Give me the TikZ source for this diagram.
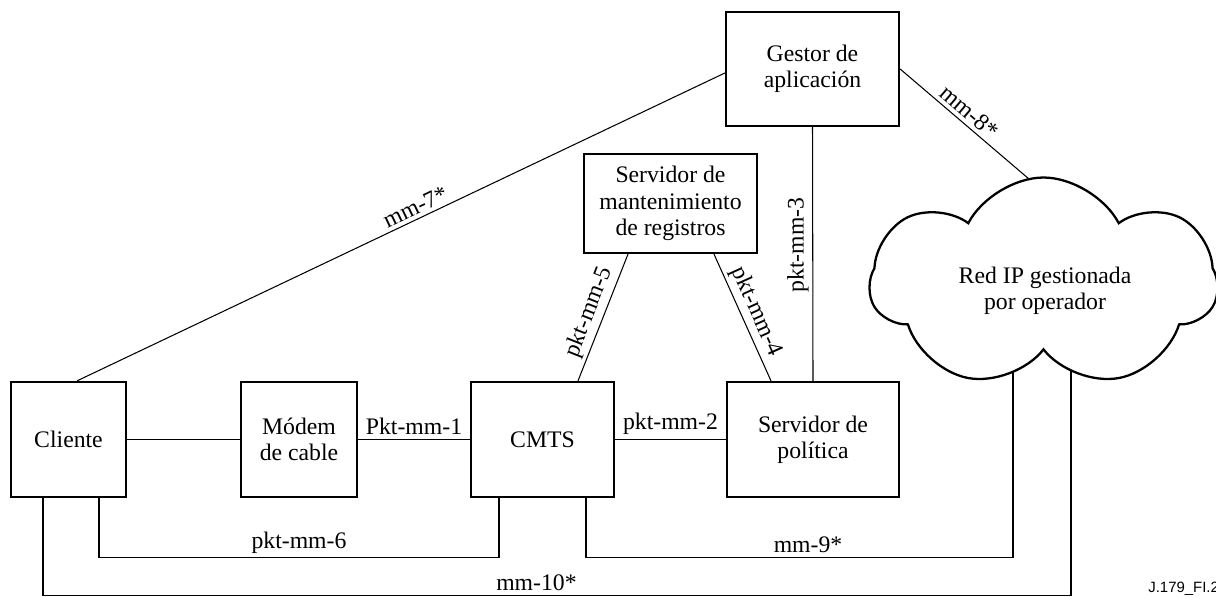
\documentclass[tikz,border=0pt]{standalone}
\usepackage{fontspec}
\setmainfont{Liberation Serif}
\newfontfamily\figfont{Liberation Sans}
\usetikzlibrary{shapes,calc}

\tikzset{
	box/.style={draw, line width=1.3pt, align=center, inner sep=0pt},
	link/.style={line width=0.6pt},
	mainlink/.style={line width=1.1pt},
	lbl/.style={inner sep=2pt}
}

\begin{document}
\begin{tikzpicture}[x=0.02cm, y=-0.02cm, font=\fontsize{13.5}{15}\selectfont]
	\useasboundingbox (0,0) rectangle (1216,597);

	\node[box, minimum width=2.3cm, minimum height=2.3cm] (cliente) at (68.5,439.5) {Cliente};
	\node[box, minimum width=2.32cm, minimum height=2.3cm] (modem) at (299,439.5) {Módem\\de cable};
	\node[box, minimum width=2.86cm, minimum height=2.3cm] (cmts) at (542.5,439.5) {CMTS};
	\node[box, minimum width=3.44cm, minimum height=2.3cm] (politica) at (813,439.5) {Servidor de\\política};
	\node[box, minimum width=3.46cm, minimum height=1.98cm] (registros) at (670.5,203.5) {Servidor de\\mantenimiento\\de registros};
	\node[box, minimum width=3.46cm, minimum height=2.28cm] (gestor) at (812.5,69) {Gestor de\\aplicación};

	\coordinate (n8) at (1036,185);
	\coordinate (n9) at (1013,360);
	\coordinate (n10) at (1071,360);

	\draw[mainlink] (cliente) -- (modem);
	\draw[mainlink] (modem) -- node[lbl, above]{Pkt-mm-1} (cmts);
	\draw[mainlink] (cmts) -- node[lbl, above]{pkt-mm-2} (politica);

	\draw[link] ($(cliente.north)+(8.5,0)$) -- node[lbl, sloped, above, pos=0.53]{mm-7*} ($(gestor.west)+(0,4)$);
	\draw[link] ($(cmts.north)+(35.5,0)$) -- node[lbl, sloped, above]{pkt-mm-5} ($(registros.south)+(-42.5,0)$);
	\draw[link] ($(registros.south)+(43.5,0)$) -- node[lbl, sloped, above]{pkt-mm-4} ($(politica.north)+(-42,0)$);
	\draw[link] (politica.north) -- node[lbl, rotate=90, anchor=south, pos=0.535]{pkt-mm-3} (gestor.south);
	\draw[link] (gestor.east) -- node[lbl, sloped, above, pos=0.45]{mm-8*} (n8);

	\draw[link] ($(cliente.south)+(30.5,0)$) -- ++(0,59) -| node[lbl, above, pos=0.25]{pkt-mm-6} ($(cmts.south)+(-43.5,0)$);
	\draw[link] ($(cmts.south)+(43.5,0)$) -- ++(0,59) -| node[lbl, above, pos=0.26]{mm-9*} (n9);
	\draw[link] ($(cliente.south)+(-25.5,0)$) -- ++(0,97) -| node[lbl, above, pos=0.24]{mm-10*} (n10);

	\node[cloud, cloud puffs=7, cloud puff arc=125, cloud ignores aspect, draw, fill=white, line width=1.3pt, minimum width=6.95cm, minimum height=4.22cm] (net) at (1043.5,283) {};
	\node[align=center] (netname) at (1045,291) {Red IP gestionada\\por operador};

	\node[font=\figfont\fontsize{8.5}{9}\selectfont, anchor=base west, inner sep=0pt] (figid) at (1148,592) {J.179\_FI.2};
\end{tikzpicture}
\end{document}
